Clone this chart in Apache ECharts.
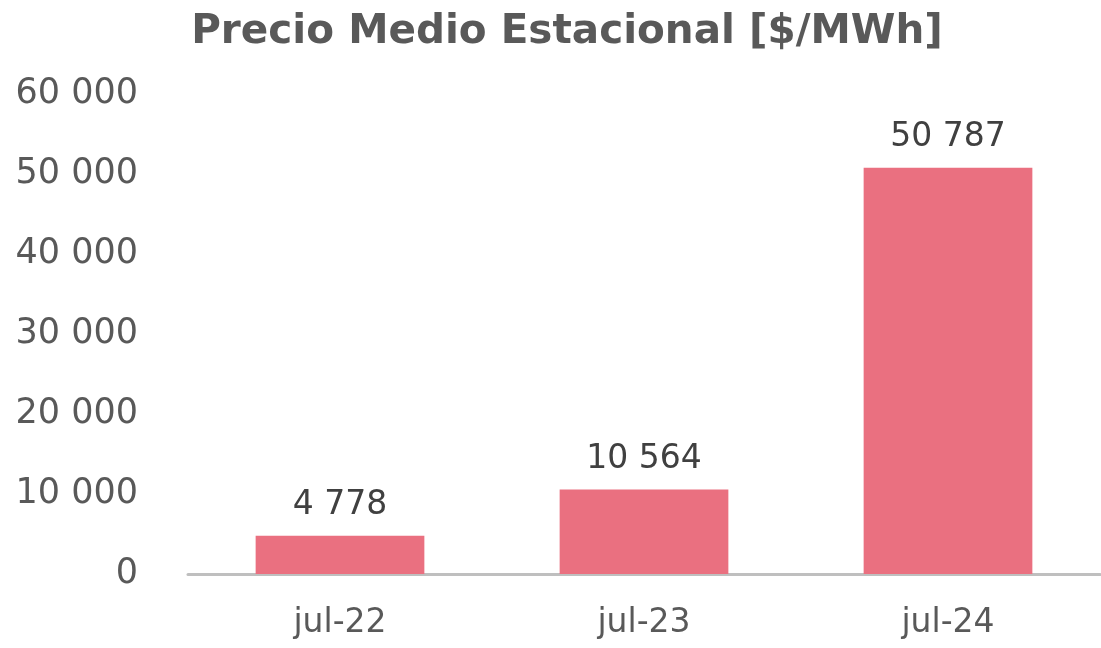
<!DOCTYPE html>
<html><head><meta charset="utf-8">
<script src="https://cdn.jsdelivr.net/npm/echarts@6/dist/echarts.min.js"></script>
<style>html,body{margin:0;padding:0;background:#fff}#c{width:1101px;height:648px}</style>
</head><body><div id="c"></div>
<script>
const categories = ['jul-22', 'jul-23', 'jul-24'];
const values = [4778, 10564, 50787];
const yTicks = [0, 10000, 20000, 30000, 40000, 50000, 60000];
const fmt = v => String(v).replace(/\B(?=(\d{3})+(?!\d))/g, ' ');
const F = 'DejaVu Sans';
const chart = echarts.init(document.getElementById('c'), null, {renderer: 'canvas'});
chart.setOption({
  animation: false,
  backgroundColor: '#fff',
  title: {
    text: 'Precio Medio Estacional [$/MWh]',
    left: 562, top: 7, textAlign: 'center',
    textStyle: {fontFamily: F, fontWeight: 'bold', fontSize: 40.5, color: '#595959'}
  },
  grid: {left: 188, right: 1, top: 94, bottom: 74, containLabel: false},
  xAxis: {
    type: 'category', data: categories,
    axisLine: {lineStyle: {color: '#bfbfbf', width: 3}},
    axisTick: {show: false},
    axisLabel: {fontFamily: F, fontSize: 33, color: '#595959', margin: 33}
  },
  yAxis: {
    type: 'value', min: yTicks[0], max: yTicks[yTicks.length - 1], interval: 10000,
    splitLine: {show: false}, axisLine: {show: false}, axisTick: {show: false},
    axisLabel: {fontFamily: F, fontSize: 35, color: '#595959', margin: 50, lineHeight: 40, padding: [6, 0, 0, 0], formatter: fmt}
  },
  series: [{
    type: 'bar', data: values, barWidth: '55.5%',
    itemStyle: {color: '#EA7080'},
    label: {show: true, position: 'top', distance: 14, fontFamily: F, fontSize: 33, color: '#404040', formatter: p => fmt(p.value)}
  }]
});
</script></body></html>
